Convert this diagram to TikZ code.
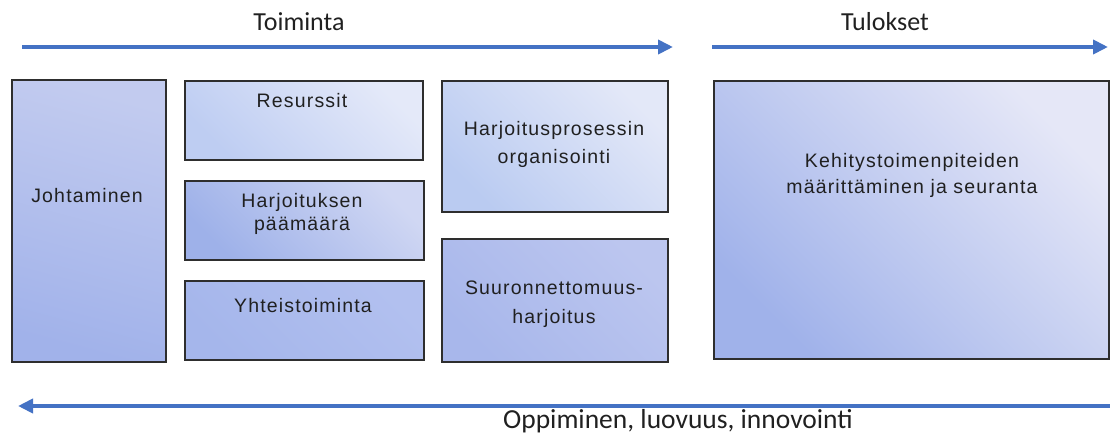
\documentclass[tikz,border=0pt]{standalone}
\usepackage{fontspec}
\usetikzlibrary{arrows.meta}
\newfontfamily\boxfont{Liberation Sans}[LetterSpace=6]
\newfontfamily\calfont{Carlito}
\definecolor{arrowblue}{HTML}{4472C4}
\definecolor{boxline}{HTML}{2E2E2E}
\definecolor{txt}{HTML}{202020}
\tikzset{
  box/.style={draw=boxline, line width=1.8pt, inner sep=0pt, anchor=north west},
  lbl/.style={font=\boxfont\fontsize{19.5}{23}\selectfont, text=txt, align=center, inner sep=0pt, anchor=base},
  head/.style={font=\calfont\fontsize{26}{30}\selectfont, text=txt, inner sep=0pt, anchor=base},
  arr/.style={draw=arrowblue, line width=4pt, -{Triangle[length=15pt,width=14pt]}},
}
\begin{document}
\begin{tikzpicture}[x=1pt,y=-1pt]
\useasboundingbox (0,0) rectangle (1110,434);
% arrows
\coordinate (a1s) at (22,47); \coordinate (a1e) at (673,47);
\coordinate (a2s) at (712,47); \coordinate (a2e) at (1108,47);
\coordinate (a3s) at (1110,406); \coordinate (a3e) at (18,406);
\draw[arr] (a1s) -- (a1e);
\draw[arr] (a2s) -- (a2e);
\draw[arr] (a3s) -- (a3e);
\node[head] (toim) at (299,30) {Toiminta};
\node[head] (tul) at (885,30) {Tulokset};
\node[head, font=\calfont\fontsize{27.5}{30}\selectfont] (opp) at (678,428) {Oppiminen, luovuus, innovointi};
% boxes
\node[box, minimum width=154pt, minimum height=282pt, top color={rgb,255:red,194;green,203;blue,239}, bottom color={rgb,255:red,161;green,178;blue,234}, shading angle=-15] (joh) at (11,79) {};
\node[box, minimum width=238pt, minimum height=79pt, top color={rgb,255:red,228;green,233;blue,249}, bottom color={rgb,255:red,190;green,205;blue,242}, shading angle=-45] (res) at (184,80) {};
\node[box, minimum width=239pt, minimum height=79pt, top color={rgb,255:red,208;green,215;blue,243}, bottom color={rgb,255:red,158;green,177;blue,233}, shading angle=-45] (har) at (184,180) {};
\node[box, minimum width=239pt, minimum height=79pt, top color={rgb,255:red,178;green,192;blue,239}, bottom color={rgb,255:red,165;green,182;blue,235}, shading angle=-45] (yht) at (184,280) {};
\node[box, minimum width=226pt, minimum height=131pt, top color={rgb,255:red,227;green,232;blue,248}, bottom color={rgb,255:red,186;green,203;blue,241}, shading angle=-45] (org) at (441,80) {};
\node[box, minimum width=226pt, minimum height=123pt, top color={rgb,255:red,188;green,198;blue,239}, bottom color={rgb,255:red,168;green,183;blue,235}, shading angle=-45] (suu) at (441,238) {};
\node[box, minimum width=395pt, minimum height=278pt, top color={rgb,255:red,229;green,231;blue,247}, bottom color={rgb,255:red,160;green,178;blue,234}, shading angle=-45] (keh) at (713,80) {};
% labels (multi-line nodes: base = last line)
\node[lbl] (tjoh) at (87,202) {Johtaminen};
\node[lbl] (tres) at (302,107) {Resurssit};
\node[lbl] (thar) at (302,230) {Harjoituksen\\päämäärä};
\node[lbl] (tyht) at (303,312) {Yhteistoiminta};
\node[lbl, font=\boxfont\fontsize{19.5}{28}\selectfont] (torg) at (554,163) {Harjoitusprosessin\\organisointi};
\node[lbl, font=\boxfont\fontsize{19.5}{29}\selectfont] (tsuu) at (554,323) {Suuronnettomuus-\\harjoitus};
\node[lbl, font=\boxfont\fontsize{19.5}{26}\selectfont] (tkeh) at (912,193) {Kehitystoimenpiteiden\\määrittäminen ja seuranta};
\end{tikzpicture}
\end{document}
